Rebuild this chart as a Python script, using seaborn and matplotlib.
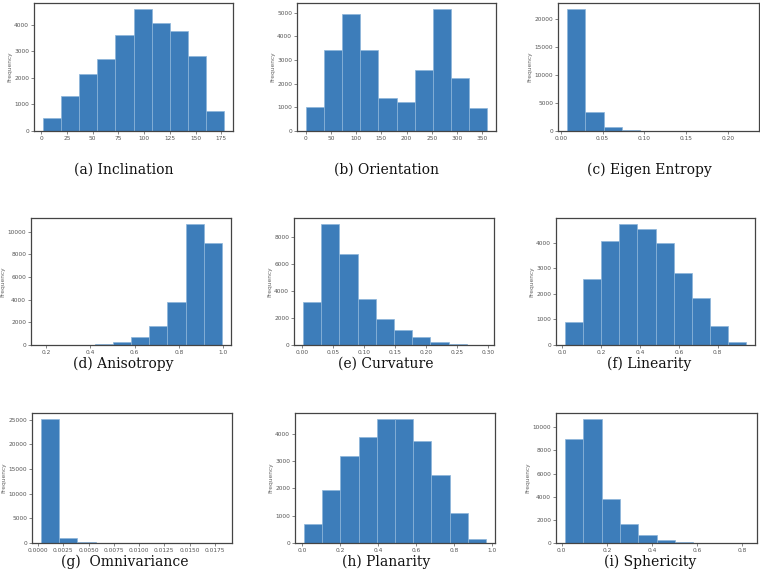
import numpy as np
import matplotlib
matplotlib.use("Agg")
import matplotlib.pyplot as plt
import seaborn as sns
from matplotlib.ticker import MultipleLocator

# Histogram counts (10 bins each)
inclination = [500, 1320, 2130, 2710, 3620, 4590, 4050, 3770, 2830, 745]
orientation = [1000, 3410, 4960, 3440, 1395, 1225, 2590, 5155, 2225, 960]
eigen_entropy = [21730, 3460, 660, 120, 30, 10, 5, 3, 1, 1]
anisotropy = [2, 5, 20, 117, 265, 675, 1640, 3785, 10675, 9005]
curvature = [3190, 8960, 6725, 3435, 1940, 1130, 565, 220, 75, 20]
linearity = [895, 2570, 4065, 4725, 4545, 3975, 2805, 1830, 755, 105]
omnivariance = [25070, 955, 135, 20, 6, 3, 2, 1, 1, 1]
planarity = [690, 1955, 3190, 3900, 4530, 4540, 3755, 2500, 1085, 160]
sphericity = [9015, 10695, 3815, 1645, 695, 290, 115, 40, 15, 5]

# Data ranges (min, max) of each feature
ranges = [(1.6, 177.6), (0.5, 359.5), (0.0076, 0.2265),
          (0.174, 0.994), (0.001, 0.295), (0.014, 0.946),
          (0.0003, 0.0183), (0.009, 0.969), (0.015, 0.826)]

captions = ["(a) Inclination", "(b) Orientation", "(c) Eigen Entropy",
            "(d) Anisotropy", "(e) Curvature", "(f) Linearity",
            "(g)  Omnivariance", "(h) Planarity", "(i) Sphericity"]

counts = [inclination, orientation, eigen_entropy, anisotropy, curvature,
          linearity, omnivariance, planarity, sphericity]

x_steps = [25, 50, 0.05, 0.2, 0.05, 0.2, 0.0025, 0.2, 0.2]
y_steps = [1000, 1000, 5000, 2000, 2000, 1000, 5000, 1000, 2000]

# Axes boxes in pixels: left, right, top, bottom
boxes = [(34, 233, 3, 131), (297, 496, 3, 131), (558, 759, 3, 131),
         (31, 231, 218, 345), (294, 494, 218, 345), (556, 755, 218, 345),
         (32, 232, 413, 543), (295, 495, 413, 543), (556, 757, 413, 543)]
caption_pos = [(124, 170), (386, 170), (649, 170),
               (123, 364), (386, 364), (649, 364),
               (125, 562), (386, 562), (650, 562)]

W, H = 760, 570
sns.set_style("white")
fig = plt.figure(figsize=(W / 100, H / 100), dpi=100)

for i in range(9):
    l, r, t, b = boxes[i]
    ax = fig.add_axes([l / W, 1 - b / H, (r - l) / W, (b - t) / H])
    lo, hi = ranges[i]
    edges = np.linspace(lo, hi, 11)
    centers = (edges[:-1] + edges[1:]) / 2
    sns.histplot(x=centers, weights=counts[i], bins=10, binrange=(lo, hi),
                 color="#3d7dba", edgecolor="#8cb5da", linewidth=0.5,
                 alpha=1, ax=ax)
    ax.set_xlabel("")
    ax.set_ylabel("Frequency", fontsize=4.2, color="#666666", labelpad=1.5)
    ax.xaxis.set_major_locator(MultipleLocator(x_steps[i]))
    ax.yaxis.set_major_locator(MultipleLocator(y_steps[i]))
    ax.tick_params(labelsize=4.2, labelcolor="#555555", length=2, width=0.5,
                   color="#555555", pad=1.5, bottom=True, left=True)
    for sp in ax.spines.values():
        sp.set_color("#444444")
        sp.set_linewidth(0.9)

    cx, cy = caption_pos[i]
    fig.text(cx / W, 1 - cy / H, captions[i], ha="center", va="center",
             fontsize=10, family="DejaVu Serif", color="#111111")

plt.savefig("out.png", dpi=100)
